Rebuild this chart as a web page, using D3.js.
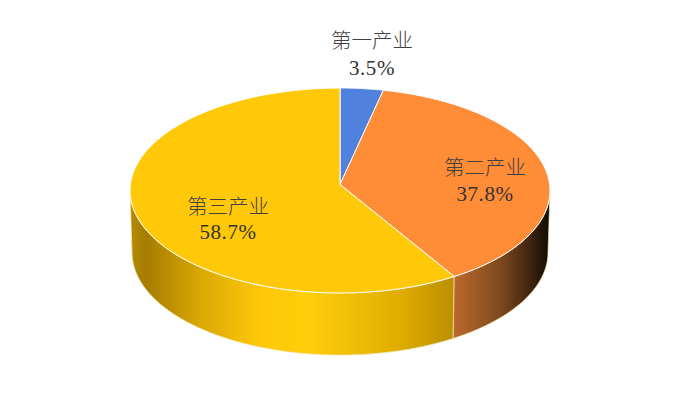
<!doctype html>
<html>
<head>
<meta charset="utf-8">
<style>
  html, body { margin: 0; padding: 0; background: #fff; }
  svg { display: block; }
  .name { font: 300 20.5px "Noto Sans CJK SC", sans-serif; fill: #404040; text-anchor: middle; }
  .pct { font: 21px "Liberation Serif", serif; letter-spacing: 0.6px; fill: #333; text-anchor: middle; }
</style>
</head>
<body>
<svg id="chart" width="674" height="403"></svg>
<script src="https://d3js.org/d3.v7.min.js"></script>
<script>
var categories = ["第一产业", "第二产业", "第三产业"];
var values = [3.5, 37.8, 58.7];
var labels = ["3.5%", "37.8%", "58.7%"];
var colors = ["#4f81dd", "#ff8c37", "#ffc808"];

var cx = 340, cy = 190.5, rx = 210, ry = 102.5, depth = 62, apexY = 184.5;
// label centre for each slice (name line baseline, pct line baseline)
var labelPos = [[372, 48, 75], [485, 175, 201], [228, 214, 239]];

var svg = d3.select("#chart");
var defs = svg.append("defs");

function gradient(id, stops) {
  var g = defs.append("linearGradient").attr("id", id)
    .attr("gradientUnits", "userSpaceOnUse")
    .attr("x1", 130).attr("x2", 550).attr("y1", 0).attr("y2", 0);
  g.selectAll("stop").data(stops).enter().append("stop")
    .attr("offset", function(d) { return (d[0] - 130) / 420; })
    .attr("stop-color", function(d) { return d[1]; });
}
gradient("wallYellow", [[130, "#b58a06"], [146, "#a57c00"], [200, "#d9a804"], [262, "#ffc908"], [310, "#ffcd0a"], [400, "#dfac00"], [454, "#bb9000"]]);
gradient("wallOrange", [[454, "#bb692e"], [500, "#7f4a1d"], [530, "#3f2410"], [549, "#140b03"]]);

var pie = d3.pie().sort(null).value(function(d) { return d; });
var arcs = pie(values);

// tilted view: slice edges land a little before their flat angle
function warp(a) { return a - 0.055 * Math.sin(a); }
function ptTop(a) { return [cx + rx * Math.sin(a), cy - ry * Math.cos(a)]; }
function ptBot(a) { return [cx + (rx - 2) * Math.sin(a), cy + depth - ry * Math.cos(a)]; }
function samples(a0, a1) { return d3.range(0, 61).map(function(i) { return a0 + (a1 - a0) * i / 60; }); }
var line = d3.line();

// side wall, only the part of each slice facing the viewer
var walls = [
  {from: warp(arcs[2].startAngle), to: Math.PI * 1.5, fill: "url(#wallYellow)"},
  {from: Math.PI / 2, to: warp(arcs[1].endAngle), fill: "url(#wallOrange)"}
];
svg.append("g").selectAll("path").data(walls).enter().append("path")
  .attr("d", function(d) {
    var s = samples(d.from, d.to);
    return line(s.map(ptTop).concat(s.slice().reverse().map(ptBot))) + "Z";
  })
  .attr("fill", function(d) { return d.fill; })
  .attr("stroke", "#f3e6b0").attr("stroke-width", 0.7);

// top face
svg.append("g").selectAll("path").data(arcs).enter().append("path")
  .attr("d", function(d) {
    return line([[cx, apexY]].concat(samples(warp(d.startAngle), warp(d.endAngle)).map(ptTop))) + "Z";
  })
  .attr("fill", function(d, i) { return colors[i]; })
  .attr("stroke", "#fff").attr("stroke-width", 1).attr("stroke-linejoin", "round");

var lab = svg.append("g").selectAll("g").data(categories).enter().append("g");
lab.append("text").attr("class", "name")
  .attr("x", function(d, i) { return labelPos[i][0]; })
  .attr("y", function(d, i) { return labelPos[i][1]; })
  .text(function(d) { return d; });
lab.append("text").attr("class", "pct")
  .attr("x", function(d, i) { return labelPos[i][0]; })
  .attr("y", function(d, i) { return labelPos[i][2]; })
  .text(function(d, i) { return labels[i]; });
</script>
</body>
</html>
